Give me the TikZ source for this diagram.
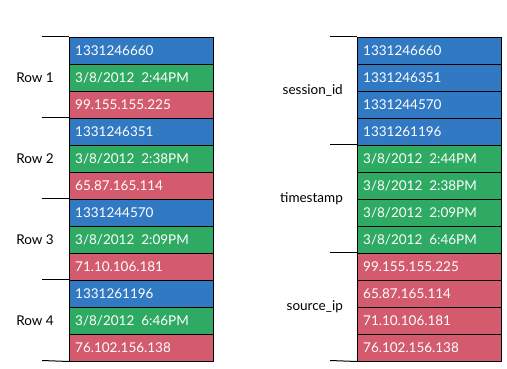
\documentclass[tikz,border=0pt]{standalone}
\usepackage{fontspec}
\setmainfont{Lato}
\definecolor{cblue}{RGB}{50,121,195}
\definecolor{cgreen}{RGB}{46,170,98}
\definecolor{cred}{RGB}{212,91,110}
\tikzset{
  cell/.style={draw=black, line width=1pt, minimum width=144pt, minimum height=27pt,
    anchor=north west, inner sep=0pt, text=white, font=\fontsize{13.5}{15}\selectfont},
  celltext/.style={anchor=west, text=white, inner sep=0pt, font=\fontsize{13.5}{15}\selectfont},
  lbl/.style={anchor=east, inner sep=0pt, font=\fontsize{13.5}{15}\selectfont},
  sep/.style={line width=1pt}
}
\begin{document}
\begin{tikzpicture}[x=1pt,y=-1pt]
\useasboundingbox (0,0) rectangle (507,368);
% left table
\foreach \t/\c [count=\i] in {
 1331246660/cblue, {3/8/2012\ \ 2:44PM}/cgreen, 99.155.155.225/cred,
 1331246351/cblue, {3/8/2012\ \ 2:38PM}/cgreen, 65.87.165.114/cred,
 1331244570/cblue, {3/8/2012\ \ 2:09PM}/cgreen, 71.10.106.181/cred,
 1331261196/cblue, {3/8/2012\ \ 6:46PM}/cgreen, 76.102.156.138/cred}{
  \node[cell, fill=\c] (l\i) at (69,{36.5+27*(\i-1)}) {};
  \node[celltext] (lt\i) at ([xshift=6pt]l\i.west) {\t};
}
% right table
\foreach \t/\c [count=\i] in {
 1331246660/cblue, 1331246351/cblue, 1331244570/cblue, 1331261196/cblue,
 {3/8/2012\ \ 2:44PM}/cgreen, {3/8/2012\ \ 2:38PM}/cgreen, {3/8/2012\ \ 2:09PM}/cgreen, {3/8/2012\ \ 6:46PM}/cgreen,
 99.155.155.225/cred, 65.87.165.114/cred, 71.10.106.181/cred, 76.102.156.138/cred}{
  \node[cell, fill=\c] (r\i) at (357,{36.5+27*(\i-1)}) {};
  \node[celltext] (rt\i) at ([xshift=6pt]r\i.west) {\t};
}
% left separators
\coordinate (a0) at (42,36.5);
\coordinate (a1) at (42,117.5);
\coordinate (a2) at (42,198.5);
\coordinate (a3) at (42,279.5);
\coordinate (a4) at (42,360.5);
\draw[sep] (a0) -- (l1.north west);
\draw[sep] (a1) -- (l4.north west);
\draw[sep] (a2) -- (l7.north west);
\draw[sep] (a3) -- (l10.north west);
\draw[sep] (a4) -- (l12.south west);
% right separators
\coordinate (b0) at (330,36.5);
\coordinate (b1) at (330,144.5);
\coordinate (b2) at (330,252.5);
\coordinate (b3) at (330,360.5);
\draw[sep] (b0) -- (r1.north west);
\draw[sep] (b1) -- (r5.north west);
\draw[sep] (b2) -- (r9.north west);
\draw[sep] (b3) -- (r12.south west);
% labels
\node[lbl] (row1) at (54,77.5) {Row 1};
\node[lbl] (row2) at (54,158.5) {Row 2};
\node[lbl] (row3) at (54,239.5) {Row 3};
\node[lbl] (row4) at (54,320.5) {Row 4};
\node[lbl] (sid) at (343,90.5) {session\_id};
\node[lbl] (ts) at (343,198.5) {timestamp};
\node[lbl] (sip) at (343,306.5) {source\_ip};
\end{tikzpicture}
\end{document}
